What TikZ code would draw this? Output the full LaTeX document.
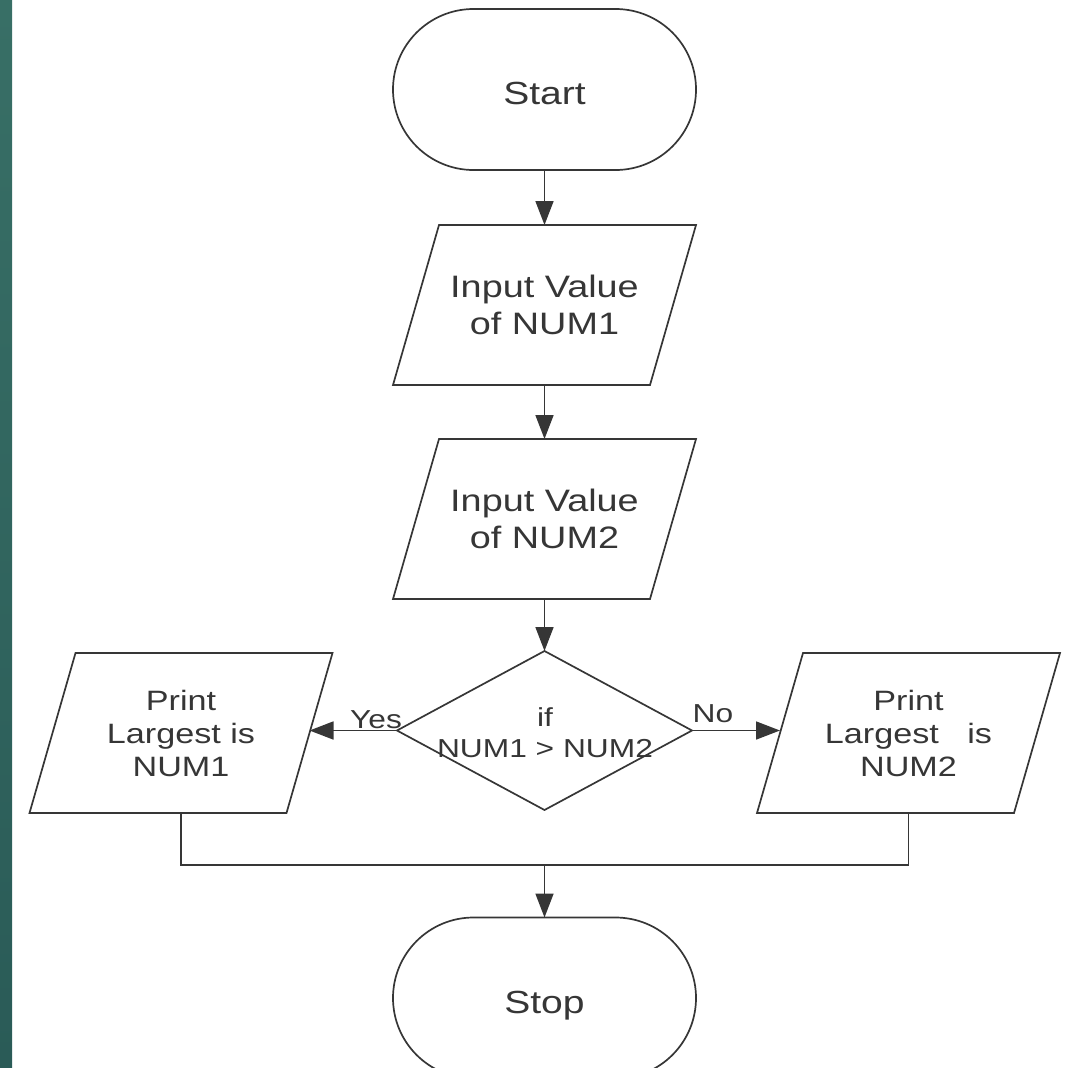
\documentclass[tikz,border=0pt]{standalone}
\usepackage{fontspec}
\setmainfont[FakeStretch=1.22]{Liberation Sans}
\usetikzlibrary{shapes.geometric,shapes.misc,arrows.meta}
\definecolor{ink}{HTML}{363636}
\definecolor{tealtop}{HTML}{386F66}
\definecolor{tealbot}{HTML}{2A5B57}
\tikzset{
  line/.style={draw=ink, line width=1.7pt},
  flow/.style={line, -{Triangle[length=24pt, width=18pt]}},
  terminal/.style={line, rounded rectangle, minimum width=303pt, minimum height=161pt,
    inner sep=0pt, outer sep=0pt, text=ink, font=\fontsize{32}{38}\selectfont,
    text height=30pt, text depth=0pt},
  % body of an input/output box: its east and west anchors lie on the
  % midpoints of the slanted sides, the frame itself is drawn by \ioframe
  io/.style={rectangle, minimum width=257pt, minimum height=160pt,
    inner sep=0pt, outer sep=0pt, text=ink, align=center},
  inputbox/.style={io, font=\fontsize{31}{37}\selectfont},
  printbox/.style={io, font=\fontsize{28}{33}\selectfont},
  decision/.style={line, diamond, minimum width=295pt, minimum height=159pt,
    inner sep=0pt, outer sep=0pt},
  dtext/.style={text=ink, align=center, inner sep=0pt, font=\fontsize{26}{31}\selectfont},
  branch/.style={text=ink, inner sep=0pt, font=\fontsize{26}{30}\selectfont},
}
% parallelogram frame round an io node, top edge shifted right
\newcommand{\ioframe}[1]{%
  \draw[line, line join=miter]
    ([xshift=23pt]#1.north west) -- ([xshift=23pt]#1.north east)
    -- ([xshift=-23pt]#1.south east) -- ([xshift=-23pt]#1.south west) -- cycle;}
\begin{document}
\begin{tikzpicture}[x=1pt, y=-1pt]
  \useasboundingbox (0,0) rectangle (1066,1068);
  \clip (0,0) rectangle (1066,1068);
  % slide edge strip
  \shade[top color=tealtop, bottom color=tealbot] (0,0) rectangle (12,1068);

  % main column
  \node[terminal] (start) at (544.5,89.5) {Start};
  \node[inputbox] (in1) at (544.5,305) {Input Value\\of NUM1};
  \node[inputbox] (in2) at (544.5,519) {Input Value\\of NUM2};
  \node[decision] (dec) at (544.5,730.5) {};
  \node[dtext] (dect) at (545,733) {if\\NUM1 > NUM2};
  \node[printbox] (p1) at (181,733) {Print\\Largest is\\NUM1};
  \node[printbox] (p2) at (908.5,733) {Print\\Largest\ \ \ is\\NUM2};
  \node[terminal] (stop) at (544.5,998) {Stop};
  \coordinate (merge) at (544.5,865);

  \ioframe{in1}
  \ioframe{in2}
  \ioframe{p1}
  \ioframe{p2}

  % branch labels
  \node[branch] (yes) at (376,720) {Yes};
  \node[branch] (no) at (713,714) {No};

  % connectors
  \draw[flow] (start.south) -- (in1.north);
  \draw[flow] (in1.south) -- (in2.north);
  \draw[flow] (in2.south) -- (dec.north);
  \draw[flow] (dec.west) -- (dec.west -| p1.east);
  \draw[flow] (dec.east) -- (dec.east -| p2.west);
  \draw[line] (p1.south) |- (merge) -| (p2.south);
  \draw[flow] (merge) -- (stop.north);
\end{tikzpicture}
\end{document}
